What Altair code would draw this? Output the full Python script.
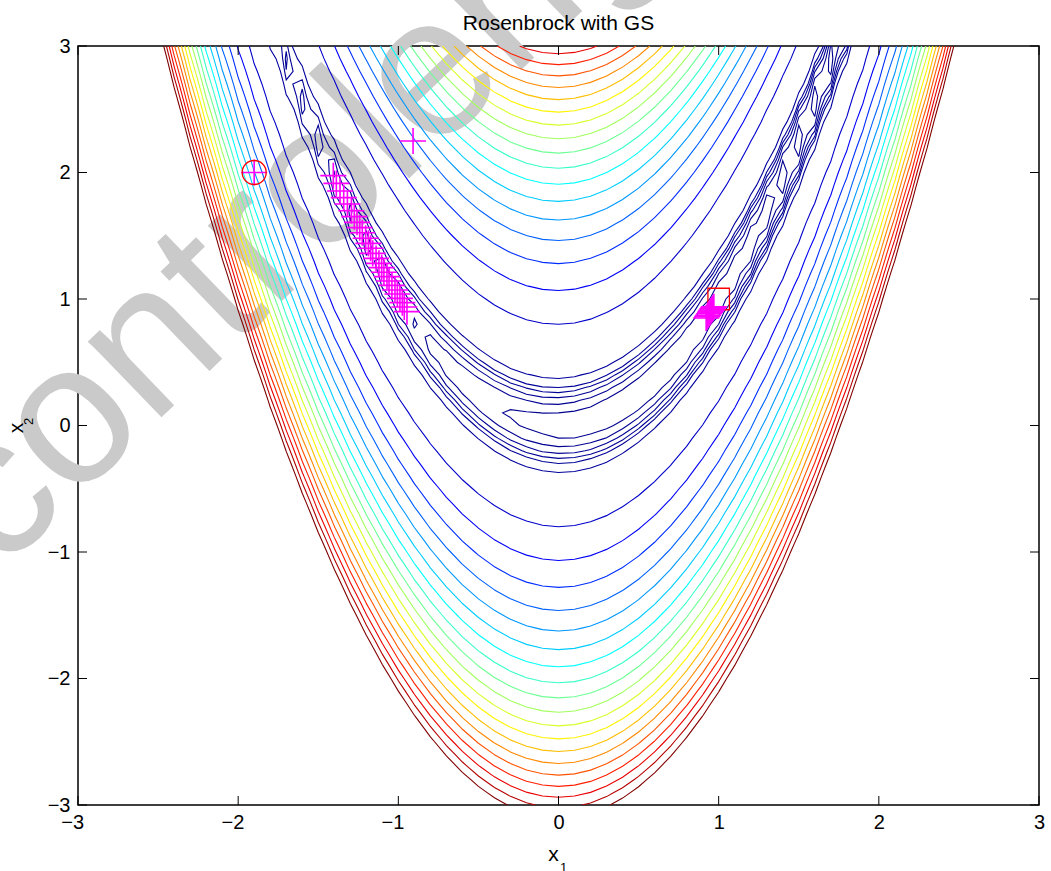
import numpy as np
import pandas as pd
import altair as alt

# Evaluation grid for the contour plot
GRID_MIN, GRID_MAX, GRID_STEP = -3.0, 3.0, 0.1

# Contour levels of the Rosenbrock function
LOW_LEVELS = [2, 4, 6, 8, 10]
HIGH_LEVELS = [15, 65, 115, 165, 215, 265, 315, 365, 415, 465,
               515, 565, 615, 665, 715, 765, 815, 865, 915, 965]
LEVELS = LOW_LEVELS + HIGH_LEVELS

# Axis tick values
TICKS = [-3, -2, -1, 0, 1, 2, 3]

# Starting point and known minimum
START = (-1.9, 2.0)
OPTIMUM = (1.0, 1.0)

# Search iterates
iter_x1 = [-1.900, -0.908,
           -1.406, -1.387, -1.364, -1.341, -1.318, -1.293, -1.275, -1.258, -1.241,
           -1.225, -1.204, -1.187, -1.173, -1.160, -1.139, -1.121, -1.104, -1.090,
           -1.071, -1.058, -1.040, -1.021, -1.006, -0.990, -0.975, -0.963, -0.946,
           0.922, 0.928, 0.934, 0.940, 0.946, 0.951, 0.956, 0.961, 0.966, 0.970]
iter_x2 = [2.000, 2.249,
           1.975, 1.914, 1.854, 1.801, 1.751, 1.698, 1.651, 1.606, 1.564,
           1.524, 1.480, 1.440, 1.401, 1.361, 1.321, 1.282, 1.248, 1.211,
           1.177, 1.142, 1.108, 1.071, 1.040, 1.005, 0.971, 0.937, 0.900,
           0.850, 0.861, 0.872, 0.883, 0.894, 0.904, 0.913, 0.922, 0.931, 0.939]

TITLE = "Rosenbrock with GS"
WATERMARK = "controlengineers"
FONT = "Liberation Sans"


def rosenbrock(x1, x2):
    return 100.0 * (x2 - x1 ** 2) ** 2 + (1.0 - x1) ** 2


xs = np.round(np.arange(GRID_MIN, GRID_MAX + GRID_STEP / 2, GRID_STEP), 10)
ys = xs.copy()
X, Y = np.meshgrid(xs, ys, indexing="ij")
Z = rosenbrock(X, Y)


def contour_paths(level):
    """Marching squares; returns polylines (lists of (x, y)) for one level."""
    n, m = Z.shape
    above = Z >= level
    adj = {}

    def link(e1, e2):
        adj.setdefault(e1, []).append(e2)
        adj.setdefault(e2, []).append(e1)

    for i in range(n - 1):
        for j in range(m - 1):
            a, b, c, d = above[i, j], above[i + 1, j], above[i + 1, j + 1], above[i, j + 1]
            bottom, right = ("h", i, j), ("v", i + 1, j)
            top, left = ("h", i, j + 1), ("v", i, j)
            crossed = []
            if a != b:
                crossed.append(bottom)
            if b != c:
                crossed.append(right)
            if c != d:
                crossed.append(top)
            if d != a:
                crossed.append(left)
            if len(crossed) == 2:
                link(*crossed)
            elif len(crossed) == 4:
                centre = (Z[i, j] + Z[i + 1, j] + Z[i + 1, j + 1] + Z[i, j + 1]) / 4 >= level
                if centre == a:
                    link(bottom, right)
                    link(top, left)
                else:
                    link(left, bottom)
                    link(right, top)

    def point(e):
        kind, i, j = e
        p, q = ((i, j), (i + 1, j)) if kind == "h" else ((i, j), (i, j + 1))
        z1, z2 = Z[p], Z[q]
        t = (level - z1) / (z2 - z1)
        return (xs[p[0]] + t * (xs[q[0]] - xs[p[0]]),
                ys[p[1]] + t * (ys[q[1]] - ys[p[1]]))

    paths, used = [], set()
    starts = [e for e, nb in adj.items() if len(nb) == 1] + list(adj.keys())
    for s in starts:
        if s in used:
            continue
        chain, prev, cur = [s], None, s
        used.add(s)
        while True:
            nxt = [e for e in adj[cur] if e != prev and e not in used]
            if not nxt:
                if len(chain) > 2 and s in adj[cur]:
                    chain.append(s)
                break
            prev, cur = cur, nxt[0]
            chain.append(cur)
            used.add(cur)
        paths.append([point(e) for e in chain])
    return paths


rows = []
line_id = 0
for lev in LEVELS:
    for path in contour_paths(lev):
        for k, (px, py) in enumerate(path):
            rows.append({"line": line_id, "level": lev, "k": k, "x1": px, "x2": py})
        line_id += 1
contour_df = pd.DataFrame(rows)

# jet colour map spread over the level range
lo, hi = min(LEVELS), max(LEVELS)
jet_stops = [lo + t * (hi - lo) for t in (0, 0.125, 0.375, 0.625, 0.875, 1.0)]
jet_colors = ["#000090", "#0000ff", "#00ffff", "#ffff00", "#ff0000", "#800000"]

W, H = 961, 759
xscale = alt.Scale(domain=[-3, 3], nice=False, zero=False)
yscale = alt.Scale(domain=[-3, 3], nice=False, zero=False)

axis_common = dict(values=TICKS, format="d", domain=False, ticks=False, grid=False,
                   labelFontSize=20, labelFont=FONT, labelColor="black",
                   labelFlush=False, labelOverlap=False, title=None)
X_ENC = alt.X("x1:Q", scale=xscale,
              axis=alt.Axis(labelPadding=7, labelAlign="right", labelOffset=5.6,
                            **axis_common))
Y_ENC = alt.Y("x2:Q", scale=yscale, axis=alt.Axis(labelPadding=8, **axis_common))

# faint watermark behind the plot
wm_df = pd.DataFrame({"x1": [-3.489], "x2": [-1.171], "text": [WATERMARK]})
watermark = alt.Chart(wm_df).mark_text(
    angle=316, fontSize=200, font=FONT, color="#cacaca",
    align="left", baseline="alphabetic"
).encode(x=X_ENC, y=Y_ENC, text="text:N")

contours = alt.Chart(contour_df).mark_line(strokeWidth=1.1, clip=True).encode(
    x=X_ENC, y=Y_ENC,
    detail="line:N",
    order="k:Q",
    color=alt.Color("level:Q", scale=alt.Scale(domain=jet_stops, range=jet_colors,
                                               interpolate="rgb"), legend=None),
)

tick_df = pd.DataFrame({"t": TICKS})
TL = 9
tick_style = dict(color="black", strokeWidth=1)
ticks_bottom = alt.Chart(tick_df).mark_rule(**tick_style).encode(
    x=alt.X("t:Q", scale=xscale), y=alt.value(H), y2=alt.value(H - TL))
ticks_top = alt.Chart(tick_df).mark_rule(**tick_style).encode(
    x=alt.X("t:Q", scale=xscale), y=alt.value(0), y2=alt.value(TL))
ticks_left = alt.Chart(tick_df).mark_rule(**tick_style).encode(
    y=alt.Y("t:Q", scale=yscale), x=alt.value(0), x2=alt.value(TL))
ticks_right = alt.Chart(tick_df).mark_rule(**tick_style).encode(
    y=alt.Y("t:Q", scale=yscale), x=alt.value(W), x2=alt.value(W - TL))

iter_df = pd.DataFrame({"x1": iter_x1, "x2": iter_x2})
plus_path = "M -1 0 L 1 0 M 0 -1 L 0 1"
iterates = alt.Chart(iter_df).mark_point(
    shape=plus_path, filled=False, size=26 * 26, strokeWidth=1.6,
    color="#ff00ff", opacity=1
).encode(x=X_ENC, y=Y_ENC)

start_df = pd.DataFrame({"x1": [START[0]], "x2": [START[1]]})
start_mark = alt.Chart(start_df).mark_point(
    shape="circle", filled=False, size=24 * 24, strokeWidth=1.3,
    color="#ff0000", opacity=1
).encode(x=X_ENC, y=Y_ENC)

opt_df = pd.DataFrame({"x1": [OPTIMUM[0]], "x2": [OPTIMUM[1]]})
opt_mark = alt.Chart(opt_df).mark_point(
    shape="square", filled=False, size=21.5 * 21.5, strokeWidth=1.3,
    color="#ff0000", opacity=1
).encode(x=X_ENC, y=Y_ENC)

# title and axis titles with subscripts
label_df = pd.DataFrame({"x1": [0.0], "x2": [0.0]})
title_mark = alt.Chart(label_df).mark_text(
    text=TITLE, fontSize=21, font=FONT, color="black", align="center",
    baseline="alphabetic"
).encode(x=alt.X("x1:Q", scale=xscale), y=alt.value(-16.5))

xlab_x = alt.Chart(label_df).mark_text(
    text="x", fontSize=21, font=FONT, color="black", align="center",
    baseline="alphabetic", dx=-5
).encode(x=alt.X("x1:Q", scale=xscale), y=alt.value(815))
xlab_sub = alt.Chart(label_df).mark_text(
    text="1", fontSize=13, font=FONT, color="black", align="left",
    baseline="alphabetic", dx=1.5
).encode(x=alt.X("x1:Q", scale=xscale), y=alt.value(826))

ylab_x = alt.Chart(label_df).mark_text(
    text="x", fontSize=21, font=FONT, color="black", align="center",
    baseline="alphabetic", angle=270
).encode(x=alt.value(-54.7), y=alt.value(382))
ylab_sub = alt.Chart(label_df).mark_text(
    text="2", fontSize=13, font=FONT, color="black", align="left",
    baseline="alphabetic", angle=270
).encode(x=alt.value(-44.7), y=alt.value(379))

chart = alt.layer(
    watermark, contours, ticks_bottom, ticks_top, ticks_left, ticks_right,
    opt_mark, iterates, start_mark,
    title_mark, xlab_x, xlab_sub, ylab_x, ylab_sub,
).properties(
    width=W, height=H,
    autosize=alt.AutoSizeParams(type="none"),
    padding={"left": 78, "top": 46, "right": 12, "bottom": 66},
    background="white",
).configure_view(stroke="black", strokeWidth=1.5)

chart.save("out.html", embed_options={"renderer": "svg", "actions": False})
